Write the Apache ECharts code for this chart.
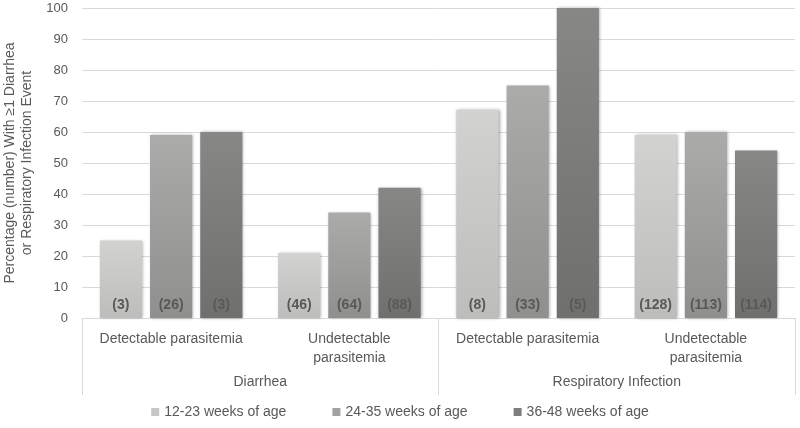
<!DOCTYPE html>
<html><head><meta charset="utf-8">
<script src="https://cdn.jsdelivr.net/npm/echarts@6/dist/echarts.min.js"></script>
<style>html,body{margin:0;padding:0;background:#fff}#c{width:800px;height:428px}</style>
</head><body><div id="c"></div>
<script>
const subCategories = ['Detectable parasitemia', 'Undetectable\nparasitemia', 'Detectable parasitemia', 'Undetectable\nparasitemia'];
const groups = ['Diarrhea', 'Respiratory Infection'];
const seriesNames = ['12-23 weeks of age', '24-35 weeks of age', '36-48 weeks of age'];
const values1223 = [25, 21, 67, 59];
const values2435 = [59, 34, 75, 60];
const values3648 = [60, 42, 100, 54];
const counts1223 = [3, 46, 8, 128];
const counts2435 = [26, 64, 33, 113];
const counts3648 = [3, 88, 5, 114];
const yTicks = [0, 10, 20, 30, 40, 50, 60, 70, 80, 90, 100];

const FONT = '"Liberation Sans", Arial, sans-serif';
const TXT = '#595959';
const palette = [
  ['#d2d2d0', '#bdbdbb', '#c6c6c4'],
  ['#ababa9', '#8f8f8d', '#a2a2a0'],
  ['#878785', '#6f6f6d', '#7e7e7c']
];
function grad(p) {
  return new echarts.graphic.LinearGradient(0, 0, 0, 1, [
    { offset: 0, color: p[0] }, { offset: 1, color: p[1] }
  ]);
}
function mk(name, vals, counts, i) {
  return {
    name: name, type: 'bar', xAxisIndex: 0,
    data: vals,
    barGap: '19%', barCategoryGap: '20%',
    itemStyle: { color: grad(palette[i]), shadowBlur: 3, shadowColor: 'rgba(0,0,0,0.35)', shadowOffsetX: 1, shadowOffsetY: 0 },
    label: {
      show: true, position: 'insideBottom', distance: 6,
      formatter: p => '(' + counts[p.dataIndex] + ')',
      color: TXT, fontWeight: 'bold', fontSize: 14, fontFamily: FONT
    },
    emphasis: { disabled: true }
  };
}
const chart = echarts.init(document.getElementById('c'));
chart.setOption({
  animation: false,
  textStyle: { fontFamily: FONT },
  grid: { left: 82, right: 5, top: 8, bottom: 110, containLabel: false, outerBoundsMode: 'none' },
  legend: {
    bottom: 4, left: 'center', itemWidth: 8, itemHeight: 8, itemGap: 46,
    icon: 'rect',
    textStyle: { color: TXT, fontSize: 14, fontFamily: FONT },
    data: seriesNames.map((n, i) => ({ name: n, itemStyle: { color: palette[i][2] } }))
  },
  xAxis: [
    {
      type: 'category', data: subCategories, position: 'bottom',
      axisLine: { show: true, lineStyle: { color: '#d9d9d9' } },
      axisTick: { show: false },
      axisLabel: { color: TXT, fontSize: 14, fontFamily: FONT, margin: 12, interval: 0, lineHeight: 19 }
    },
    {
      type: 'category', data: groups, position: 'bottom',
      axisLine: { show: false },
      axisTick: { show: true, length: 77, inside: false, interval: 0, lineStyle: { color: '#d9d9d9' } },
      axisLabel: { color: TXT, fontSize: 14, fontFamily: FONT, margin: 57, interval: 0 },
      splitLine: { show: false }
    }
  ],
  yAxis: {
    type: 'value', min: 0, max: 100, interval: 10,
    name: 'Percentage (number) With \u22651 Diarrhea\nor Respiratory Infection Event',
    nameLocation: 'middle', nameGap: 45, nameRotate: 90,
    nameTextStyle: { color: TXT, fontSize: 14, fontFamily: FONT, lineHeight: 17 },
    axisLine: { show: false }, axisTick: { show: false },
    axisLabel: { color: TXT, fontSize: 13, fontFamily: FONT, margin: 14, formatter: v => yTicks.includes(v) ? String(v) : '' },
    splitLine: { lineStyle: { color: '#d9d9d9' } }
  },
  series: [
    mk(seriesNames[0], values1223, counts1223, 0),
    mk(seriesNames[1], values2435, counts2435, 1),
    mk(seriesNames[2], values3648, counts3648, 2)
  ]
});
</script></body></html>
